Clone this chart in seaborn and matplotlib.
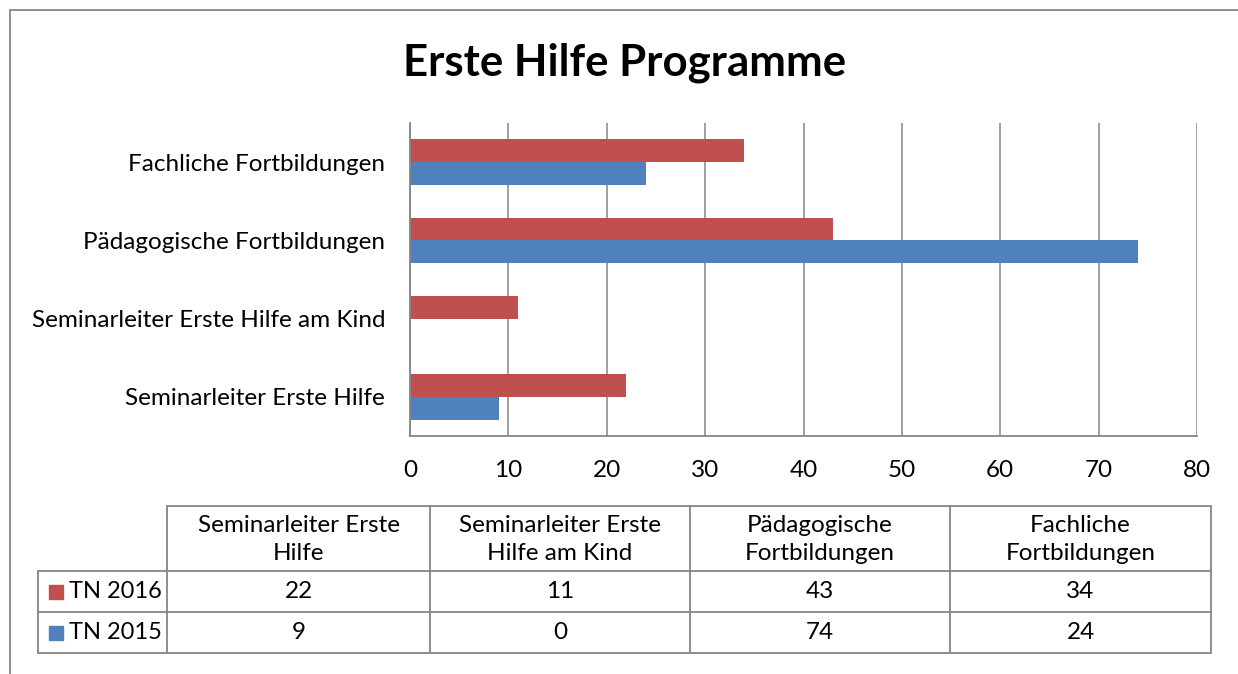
import numpy as np
import pandas as pd
import seaborn as sns
import matplotlib.pyplot as plt
from matplotlib.patches import Rectangle
from matplotlib.lines import Line2D

# data (top to bottom as drawn)
categories = ['Fachliche Fortbildungen', 'Pädagogische Fortbildungen',
              'Seminarleiter Erste Hilfe am Kind', 'Seminarleiter Erste Hilfe']
series = ['TN 2016', 'TN 2015']
tn_2016 = [34, 43, 11, 22]
tn_2015 = [24, 74, 0, 9]

# table below the chart keeps Excel's order (bottom category first)
table_labels = ['Seminarleiter Erste\nHilfe', 'Seminarleiter Erste\nHilfe am Kind',
                'Pädagogische\nFortbildungen', 'Fachliche\nFortbildungen']

colors = ['#C0504D', '#4F81BD']
grey = '#868686'
fs = 17.5

df = pd.DataFrame({
    'category': categories * 2,
    'series': [series[0]] * 4 + [series[1]] * 4,
    'value': tn_2016 + tn_2015,
})

sns.set_style('white')
plt.rcParams['font.family'] = ['Lato', 'DejaVu Sans']
plt.rcParams['text.color'] = 'black'

W, H = 1238, 674
fig = plt.figure(figsize=(W / 100, H / 100), dpi=100)

# outer chart border (only left and top visible in the original)
fig.add_artist(Line2D([10 / W, 10 / W], [0, 1 - 10 / H], transform=fig.transFigure,
                      color=grey, linewidth=1.3))
fig.add_artist(Line2D([10 / W, 1], [1 - 10 / H, 1 - 10 / H], transform=fig.transFigure,
                      color=grey, linewidth=1.3))

ax = fig.add_axes([410 / W, 1 - 436 / H, (1197 - 410) / W, (436 - 123) / H])
sns.barplot(data=df, y='category', x='value', hue='series', order=categories,
            hue_order=series, palette=colors, orient='h', width=0.58,
            saturation=1, linewidth=0, legend=False, ax=ax)

ax.set_xlim(0, 80)
ax.set_xticks(np.arange(0, 81, 10))
ax.set_ylim(3.5, -0.5)
ax.set_xlabel('')
ax.set_ylabel('')
ax.grid(axis='x', color=grey, linewidth=1.1)
ax.set_axisbelow(True)
for s in ['top', 'right']:
    ax.spines[s].set_visible(False)
for s in ['left', 'bottom']:
    ax.spines[s].set_color(grey)
    ax.spines[s].set_linewidth(1.3)
ax.tick_params(axis='both', length=0, labelsize=fs, colors='black')
ax.tick_params(axis='y', pad=18)
ax.tick_params(axis='x', pad=17)

fig.text(625 / W, 1 - 63 / H, 'Erste Hilfe Programme', ha='center', va='center',
         fontsize=31.5, fontweight='bold')

# data table, drawn in pixel-like coordinates
tax = fig.add_axes([0, 0, 1, 1])
tax.set_xlim(0, W)
tax.set_ylim(H, 0)
tax.axis('off')

col_x = [38, 167, 430, 690, 950, 1211]
row_y = [506, 571, 612, 653]
line_kw = dict(color=grey, linewidth=1.3)

tax.plot([col_x[1], col_x[-1]], [row_y[0], row_y[0]], **line_kw)
for y in row_y[1:]:
    tax.plot([col_x[0], col_x[-1]], [y, y], **line_kw)
tax.plot([col_x[0], col_x[0]], [row_y[1], row_y[-1]], **line_kw)
for x in col_x[1:]:
    tax.plot([x, x], [row_y[0], row_y[-1]], **line_kw)

for j, lab in enumerate(table_labels):
    xc = (col_x[j + 1] + col_x[j + 2]) / 2
    tax.text(xc, (row_y[0] + row_y[1]) / 2 + 1, lab, ha='center', va='center',
             fontsize=fs, linespacing=1.45)

for i, (name, vals, col) in enumerate(zip(series, [tn_2016, tn_2015], colors)):
    yc = (row_y[i + 1] + row_y[i + 2]) / 2
    tax.add_patch(Rectangle((49, yc - 7), 14, 14, color=col))
    tax.text(69, yc, name, ha='left', va='center', fontsize=17)
    for j, v in enumerate(vals[::-1]):
        xc = (col_x[j + 1] + col_x[j + 2]) / 2
        tax.text(xc, yc, str(v), ha='center', va='center', fontsize=fs)

fig.savefig('out.png', dpi=100)
